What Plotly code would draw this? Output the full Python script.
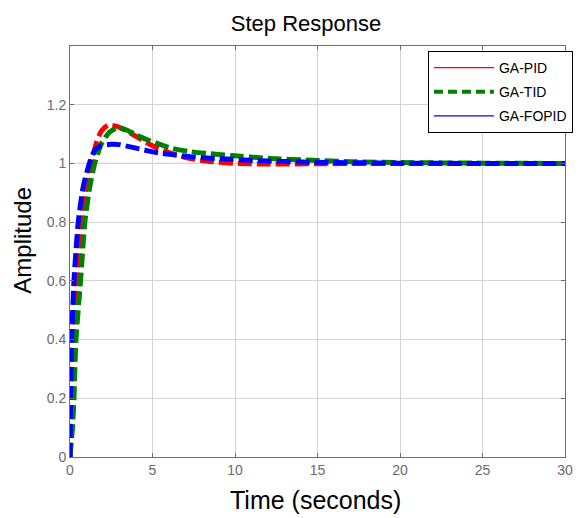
import plotly.graph_objects as go

# GA-PID (red)
t_pid = [0, 0.05, 0.1, 0.2, 0.4, 0.7, 1.0, 1.3, 1.6, 1.9, 2.3, 2.8, 3.4, 4.0, 5.0, 6.0, 7.0, 8.0, 9.0, 10, 12, 15, 20, 25, 30]
y_pid = [0, 0.1, 0.2, 0.4, 0.6, 0.8, 0.92, 1.0, 1.07, 1.11, 1.13, 1.127, 1.112, 1.092, 1.06, 1.037, 1.02, 1.01, 1.004, 1.0, 0.998, 0.999, 1.0, 1.0, 1.0]

# GA-TID (green)
t_tid = [0, 0.15, 0.24, 0.36, 0.64, 0.9, 1.2, 1.5, 1.9, 2.4, 2.9, 3.5, 4.0, 4.8, 5.4, 6.2, 7.3, 8.5, 9.8, 12, 14.7, 17, 20, 25, 30]
y_tid = [0, 0.1, 0.2, 0.4, 0.6, 0.8, 0.92, 1.0, 1.067, 1.107, 1.122, 1.112, 1.097, 1.078, 1.066, 1.051, 1.04, 1.033, 1.027, 1.017, 1.011, 1.006, 1.003, 1.001, 1.0]

# GA-FOPID (blue)
t_fopid = [0, 0.03, 0.1, 0.24, 0.5, 0.8, 1.2, 1.5, 1.9, 2.5, 3.0, 4.0, 4.8, 5.5, 6.2, 7.3, 8.5, 9.8, 12, 14.7, 20, 25, 30]
y_fopid = [0, 0.2, 0.4, 0.6, 0.8, 0.92, 1.005, 1.045, 1.061, 1.065, 1.064, 1.052, 1.042, 1.035, 1.03, 1.023, 1.018, 1.014, 1.008, 1.004, 1.001, 1.0, 1.0]

names = ["GA-PID", "GA-TID", "GA-FOPID"]
colors = ["#ff0000", "#008000", "#0000ff"]
x_ticks = [0, 5, 10, 15, 20, 25, 30]
y_ticks = [0, 0.2, 0.4, 0.6, 0.8, 1, 1.2]
y_tick_text = ["0", "0.2", "0.4", "0.6", "0.8", "1", "1.2"]

FONT = "Liberation Sans, Arial"

fig = go.Figure()
series = [(t_pid, y_pid), (t_tid, y_tid), (t_fopid, y_fopid)]
for (tx, ty), nm, c in zip(series, names, colors):
    fig.add_trace(go.Scatter(x=tx, y=ty, mode="lines",
                             line=dict(color=c, width=5, dash="14px,5px", shape="spline", smoothing=0.6),
                             showlegend=False, hoverinfo="skip"))

# legend entries (styled as in the reference legend)
leg_styles = [dict(color="#ff0000", width=1.2), dict(color="#008000", width=4, dash="9px,5px"), dict(color="#0000ff", width=1.2)]
for nm, st in zip(names, leg_styles):
    fig.add_trace(go.Scatter(x=[None], y=[None], mode="lines", name=nm, line=st, legendgroup=nm))

fig.add_shape(type="line", xref="x", yref="y", x0=0, x1=30, y0=1, y1=1,
              line=dict(color="#555555", width=1), layer="below")

axis_common = dict(showline=True, linecolor="#6e6e6e", linewidth=1, mirror="allticks", ticks="inside", ticklen=4,
                   tickcolor="#6e6e6e", showgrid=True, gridcolor="#d4d4d4", gridwidth=1, zeroline=False,
                   tickfont=dict(family=FONT, size=14, color="#6b6b6b"))

fig.update_layout(
    width=585, height=518,
    margin=dict(l=70, r=13, t=46, b=61),
    paper_bgcolor="white", plot_bgcolor="white",
    title=dict(text="Step Response", x=306 / 585, xanchor="center", y=1 - 23 / 518, yanchor="middle",
               font=dict(family=FONT, size=22, color="black")),
    xaxis=dict(range=[0, 30], tickvals=x_ticks, **axis_common),
    yaxis=dict(range=[0, 1.4], tickvals=y_ticks, ticktext=y_tick_text, **axis_common),
    legend=dict(x=(433 - 70) / 502, y=0.988, xanchor="left", yanchor="top", bgcolor="white", bordercolor="black",
                borderwidth=1, font=dict(family=FONT, size=14, color="black"), tracegroupgap=3, itemwidth=60),
    annotations=[
        dict(text="Time (seconds)", xref="paper", yref="paper", x=(319 - 70) / 502, y=-(500 - 457) / 411,
             xanchor="center", yanchor="middle", showarrow=False, font=dict(family=FONT, size=25, color="black")),
        dict(text="Amplitude", xref="paper", yref="paper", x=-(70 - 21) / 502, y=(457 - 240) / 411,
             xanchor="center", yanchor="middle", textangle=-90, showarrow=False,
             font=dict(family=FONT, size=24, color="black")),
    ],
)

fig.write_html("out.html")
